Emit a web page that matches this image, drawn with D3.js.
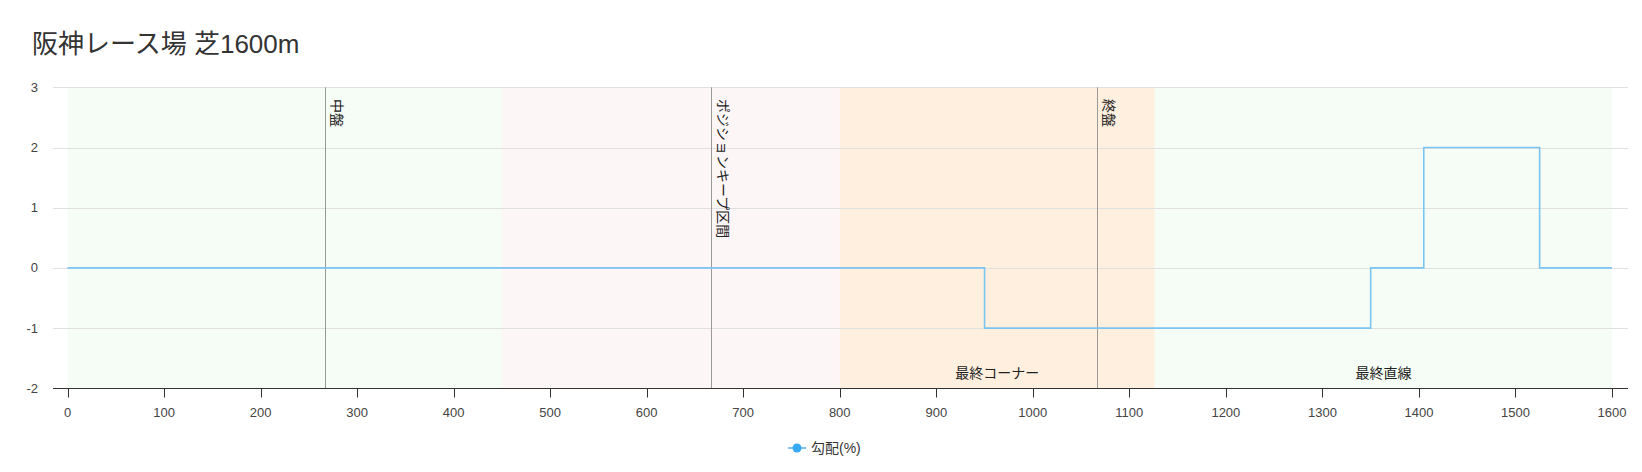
<!DOCTYPE html>
<html><head><meta charset="utf-8">
<script src="https://cdn.jsdelivr.net/npm/d3@7"></script>
<style>
html,body{margin:0;padding:0;background:#fff;}
svg{display:block;font-family:"Liberation Sans","Noto Sans CJK JP",sans-serif;}
</style></head>
<body>
<svg id="c" width="1642" height="472"></svg>
<script>
const title = "阪神レース場 芝1600m";
// gradient step data: start distance (m) and gradient (%) from there
const stepX = [0, 950, 1350, 1405, 1525, 1600];
const stepY = [0, -1, 0, 2, 0, 0];
// background sections
const bandStart = [0, 450, 800, 1126.4];
const bandEnd = [450, 800, 1126.4, 1600];
const bandColor = ["#f6fdf6", "#fcf7f6", "#feefdf", "#f6fdf6"];
const bandLabel = ["", "", "最終コーナー", "最終直線"];
// vertical markers
const markX = [266.67, 666.67, 1066.67];
const markLabel = ["中盤", "ポジションキープ区間", "終盤"];
const xTicks = [0,100,200,300,400,500,600,700,800,900,1000,1100,1200,1300,1400,1500,1600];
const yTicks = [-2,-1,0,1,2,3];
const seriesName = "勾配(%)";

const svg = d3.select("#c");
const x = d3.scaleLinear().domain([0,1600]).range([67.5,1612]);
const y = d3.scaleLinear().domain([-2,3]).range([388.3,87.3]);
const axL = 53, axR = 1628;

svg.append("text").attr("x",32).attr("y",53).attr("font-size",26).attr("fill","#333").text(title);

// bands
svg.selectAll("rect.band").data(bandStart).enter().append("rect")
  .attr("x",(d)=>x(d)).attr("width",(d,i)=>x(bandEnd[i])-x(d))
  .attr("y",y(3)).attr("height",y(-2)-y(3)).attr("fill",(d,i)=>bandColor[i]);

// grid
svg.selectAll("line.grid").data(yTicks).enter().append("line")
  .attr("x1",axL).attr("x2",axR).attr("y1",d=>Math.round(y(d))+0.5).attr("y2",d=>Math.round(y(d))+0.5)
  .attr("stroke","#e0e0e0").attr("stroke-width",1);

// y labels
svg.selectAll("text.yl").data(yTicks).enter().append("text")
  .attr("x",38).attr("y",d=>y(d)+4.5).attr("text-anchor","end").attr("font-size",13).attr("fill","#444").text(d=>d);

// band labels
svg.selectAll("text.bl").data(bandStart).enter().append("text")
  .attr("x",(d,i)=>x((d+bandEnd[i])/2)).attr("y",378).attr("text-anchor","middle")
  .attr("font-size",14).attr("fill","#222").text((d,i)=>bandLabel[i]);

// marker lines
svg.selectAll("line.mk").data(markX).enter().append("line")
  .attr("x1",d=>Math.round(x(d))+0.5).attr("x2",d=>Math.round(x(d))+0.5).attr("y1",y(3)).attr("y2",y(-2))
  .attr("stroke","#999").attr("stroke-width",1);
svg.selectAll("text.mk").data(markX).enter().append("text")
  .attr("transform",d=>`translate(${Math.round(x(d))+7},99) rotate(90)`)
  .attr("font-size",14).attr("fill","#222").text((d,i)=>markLabel[i]);

// line
const pts = stepX.map((d,i)=>[d, stepY[i]]);
const line = d3.line().x(d=>x(d[0])).y(d=>y(d[1])).curve(d3.curveStepAfter);
svg.append("path").datum(pts).attr("d",line).attr("fill","none").attr("stroke","#7cc4f2").attr("stroke-width",1.6);

// x axis
const xa = svg.append("g").attr("transform",`translate(0,${Math.round(y(-2))+0.5})`);
xa.append("line").attr("x1",axL).attr("x2",axR).attr("stroke","#333").attr("stroke-width",1);
xa.selectAll("line.t").data(xTicks).enter().append("line")
  .attr("x1",d=>Math.round(x(d))+0.5).attr("x2",d=>Math.round(x(d))+0.5).attr("y1",0).attr("y2",9)
  .attr("stroke","#333");
xa.selectAll("text").data(xTicks).enter().append("text")
  .attr("x",d=>x(d)).attr("y",28).attr("text-anchor","middle").attr("font-size",13).attr("fill","#444").text(d=>d);

// legend
const lg = svg.append("g");
lg.append("line").attr("x1",788).attr("x2",806).attr("y1",448).attr("y2",448).attr("stroke","#7cc4f2").attr("stroke-width",2);
lg.append("circle").attr("cx",797).attr("cy",448).attr("r",4.5).attr("fill","#36a9f5");
lg.append("text").attr("x",811).attr("y",453).attr("font-size",14).attr("fill","#333").text(seriesName);
</script>
</body></html>
